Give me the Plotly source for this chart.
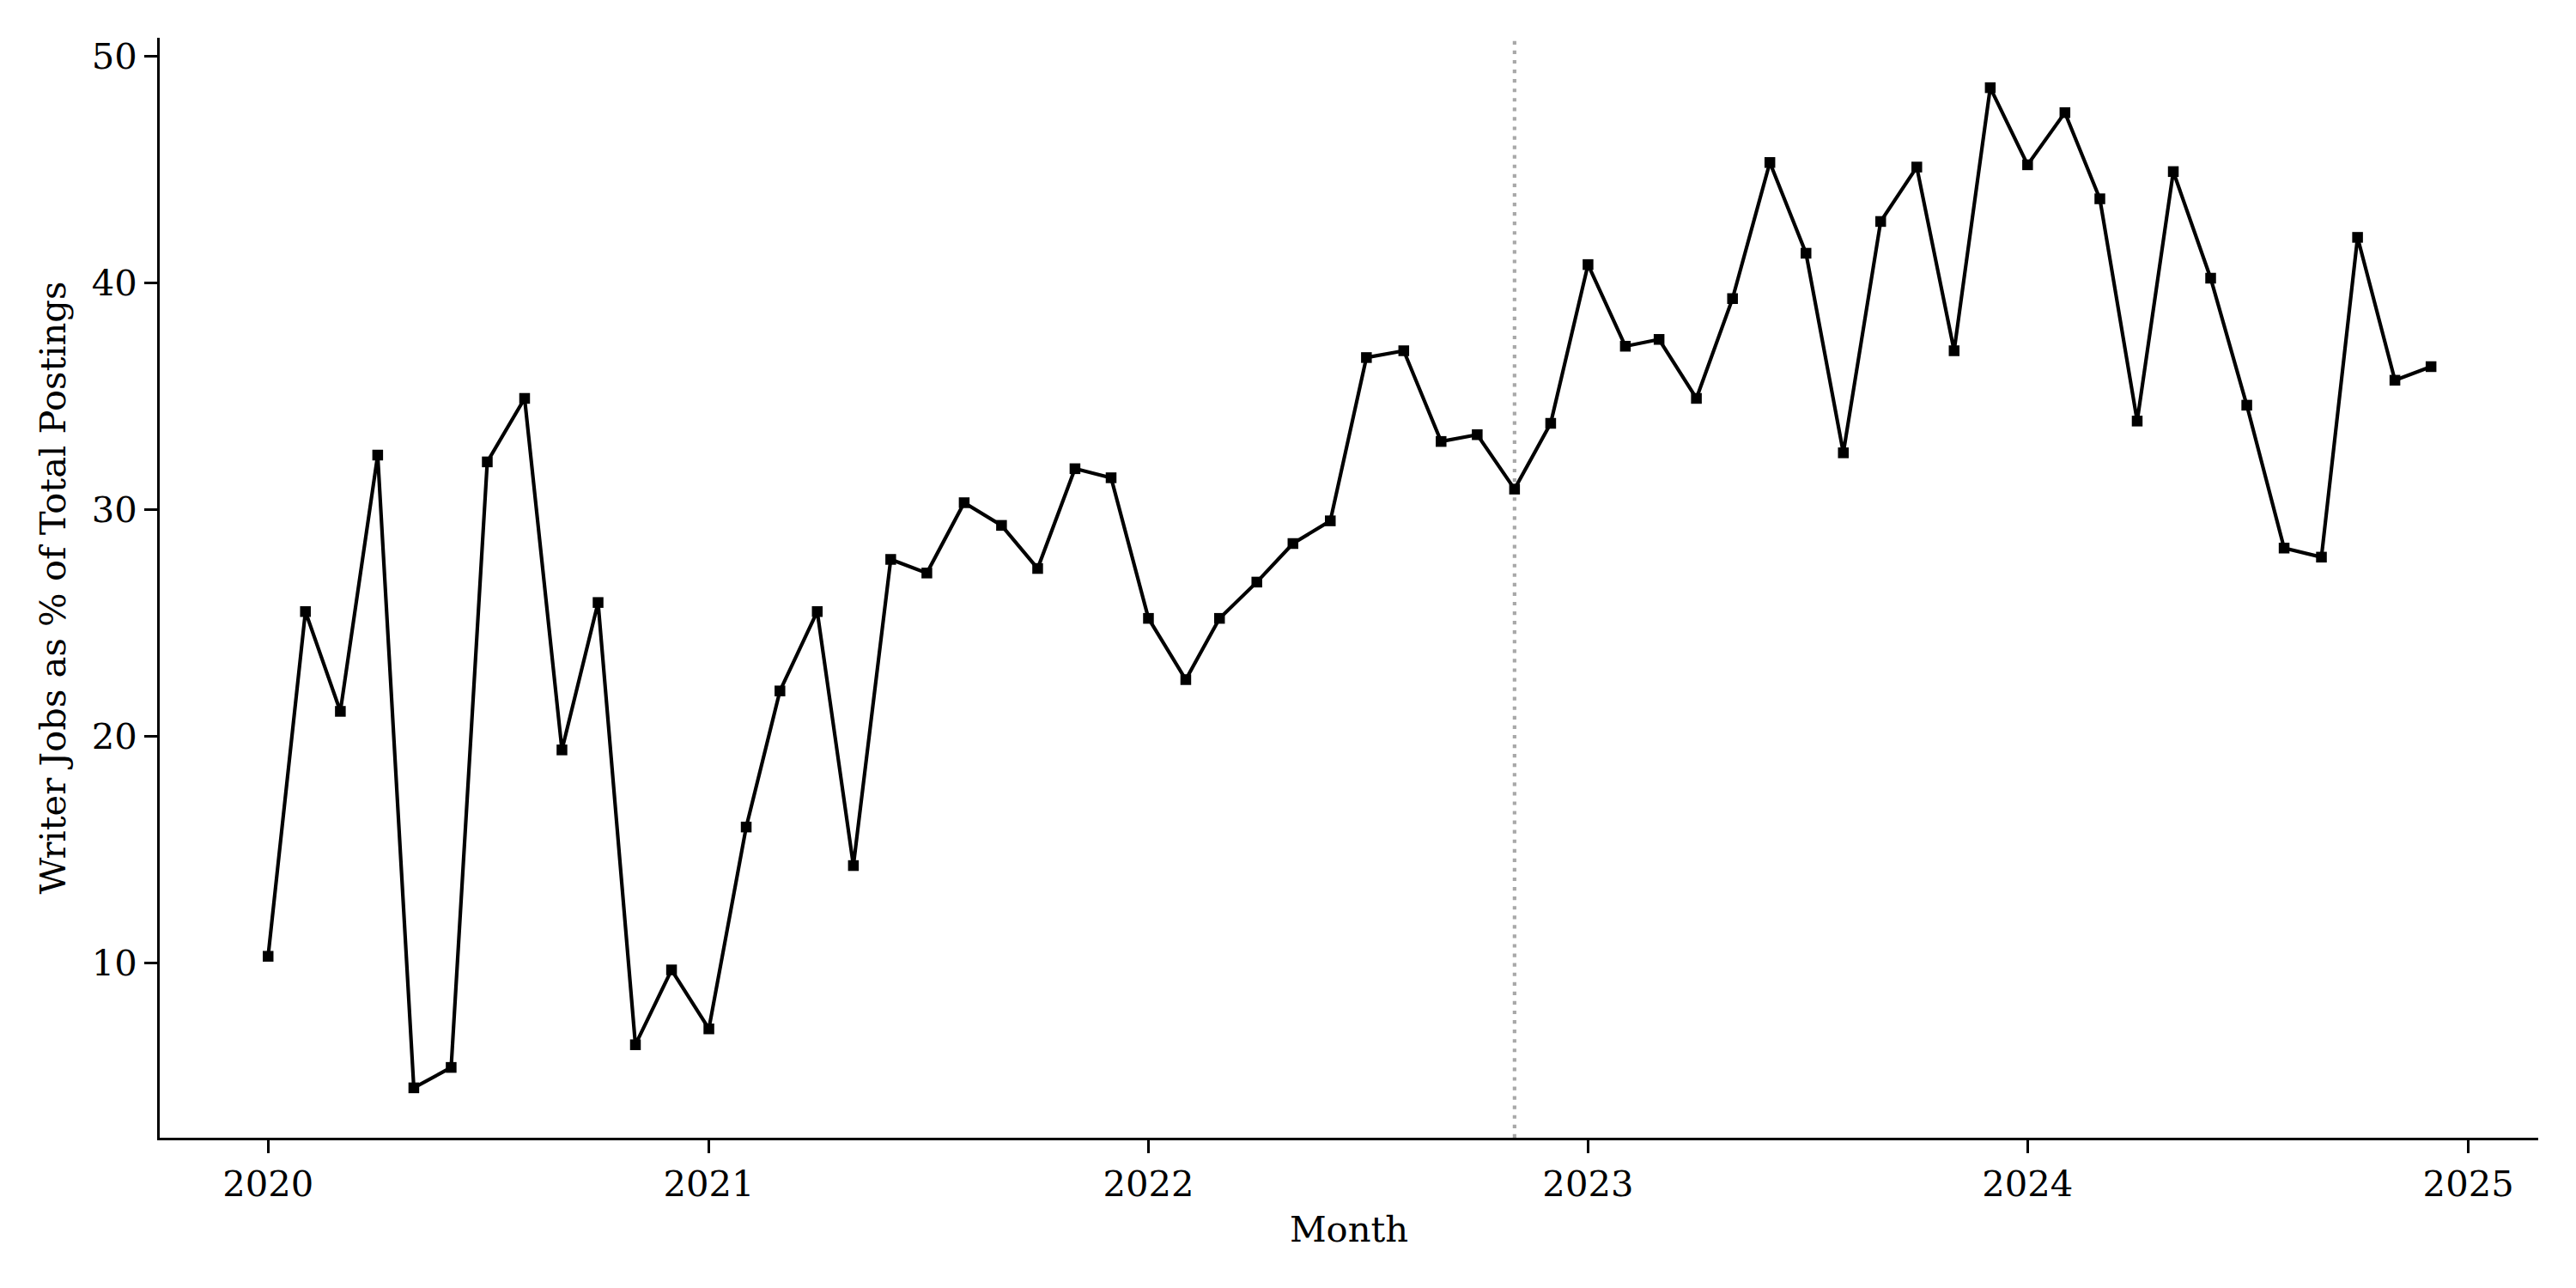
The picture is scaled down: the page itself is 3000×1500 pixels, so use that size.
import pandas as pd
import plotly.graph_objects as go

# Monthly data, Jan 2020 - Dec 2024
months = pd.date_range("2020-01-01", "2024-12-01", freq="MS")
writer_share = [
    10.3, 25.5, 21.1, 32.4, 4.5, 5.4, 32.1, 34.9, 19.4, 25.9, 6.4, 9.7,   # 2020
    7.1, 16.0, 22.0, 25.5, 14.3, 27.8, 27.2, 30.3, 29.3, 27.4, 31.8, 31.4,  # 2021
    25.2, 22.5, 25.2, 26.8, 28.5, 29.5, 36.7, 37.0, 33.0, 33.3, 30.9, 33.8,  # 2022
    40.8, 37.2, 37.5, 34.9, 39.3, 45.3, 41.3, 32.5, 42.7, 45.1, 37.0, 48.6,  # 2023
    45.2, 47.5, 43.7, 33.9, 44.9, 40.2, 34.6, 28.3, 27.9, 42.0, 35.7, 36.3,  # 2024
]
event_date = "2022-11-01"
x_title = "Month"
y_title = "Writer Jobs as % of Total Postings"
y_ticks = [10, 20, 30, 40, 50]
x_range = ["2019-10-03", "2025-02-28"]
y_range = [2.3, 50.8]

FONT = "DejaVu Serif"
FS = 41.7
LW = 4.17
SPINE = 3.33
PAGE_OFFSET = 8  # default body margin of the HTML page

fig = go.Figure()
fig.add_trace(go.Scatter(
    x=months, y=writer_share, mode="lines+markers",
    line=dict(color="black", width=LW),
    marker=dict(symbol="square", size=12.5, color="black", line=dict(width=0)),
    showlegend=False, hoverinfo="x+y",
))

fig.add_shape(
    type="line", xref="x", yref="paper",
    x0=event_date, x1=event_date, y0=0, y1=1,
    line=dict(color="#a8a8a8", width=LW, dash="4.17px,6.9px"),
    layer="below",
)

fig.update_layout(
    width=3000 - PAGE_OFFSET, height=1500 - PAGE_OFFSET,
    margin=dict(l=186 - PAGE_OFFSET, r=44, t=44 - PAGE_OFFSET, b=175, autoexpand=False),
    paper_bgcolor="white", plot_bgcolor="white",
    font=dict(family=FONT, size=FS, color="black"),
)
fig.update_xaxes(
    range=x_range, type="date",
    tick0="2020-01-01", dtick="M12", tickformat="%Y",
    showgrid=False, zeroline=False,
    showline=True, linecolor="black", linewidth=SPINE,
    ticks="outside", ticklen=14.6, tickwidth=SPINE, tickcolor="black",
    tickfont=dict(family=FONT, size=FS, color="black"),
    title=dict(text=x_title, font=dict(family=FONT, size=FS, color="black"), standoff=16),
    automargin=False,
)
fig.update_yaxes(
    range=y_range, tickvals=y_ticks,
    showgrid=False, zeroline=False,
    showline=True, linecolor="black", linewidth=SPINE,
    ticks="outside", ticklen=14.6, tickwidth=SPINE, tickcolor="black",
    tickfont=dict(family=FONT, size=FS, color="black"),
    title=dict(text=y_title, font=dict(family=FONT, size=FS, color="black"), standoff=18),
    automargin=False,
)

fig.write_html("out.html")
